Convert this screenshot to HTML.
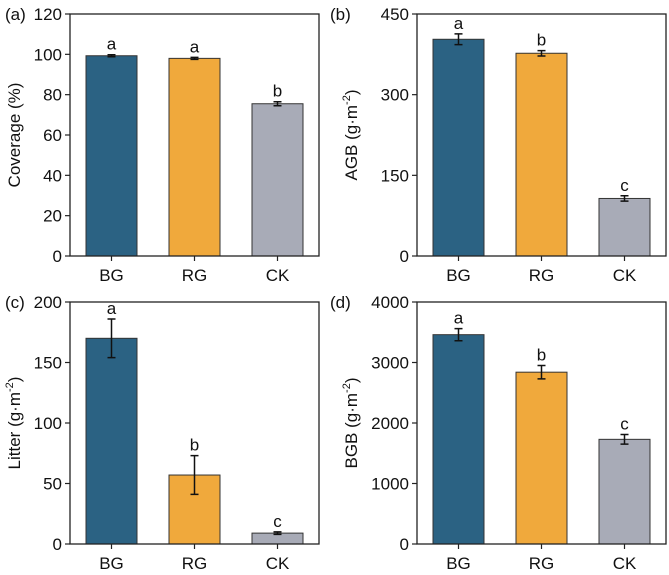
<!DOCTYPE html>
<html><head><meta charset="utf-8"><style>
body{margin:0;background:#fff;}
svg{display:block;font-family:"Liberation Sans",Arial,sans-serif;}
</style></head><body>
<svg id="chart" width="669" height="575"></svg>
<script>
const categories=["BG","RG","CK"];
const colors=["#2b6283","#f0a93c","#a8abb7"];
const coverageVals=[99.3,98.0,75.5];
const coverageErr=[0.5,0.5,1.0];
const coverageLetters=["a","a","b"];
const coverageTicks=[0,20,40,60,80,100,120];
const agbVals=[403,377,107];
const agbErr=[10,5,5];
const agbLetters=["a","b","c"];
const agbTicks=[0,150,300,450];
const litterVals=[170,57,9];
const litterErr=[16,16,1];
const litterLetters=["a","b","c"];
const litterTicks=[0,50,100,150,200];
const bgbVals=[3460,2840,1730];
const bgbErr=[100,110,80];
const bgbLetters=["a","b","c"];
const bgbTicks=[0,1000,2000,3000,4000];

const NS="http://www.w3.org/2000/svg";
const svg=document.getElementById('chart');
function mk(tag,attrs,parent){const e=document.createElementNS(NS,tag);for(const k in attrs)e.setAttribute(k,attrs[k]);(parent||svg).appendChild(e);return e;}

function panel(id,label,title,sup,x0,y0,vals,errs,letters,ticks){
  const W=249,H=242;
  const g=mk('g',{});
  
  
  const max=ticks[ticks.length-1];
  const ys=v=>y0+H-v/max*H;
  const bw=51, step=W/3;
  const xc=i=>x0+step*(i+0.5);
  vals.forEach((v,i)=>{
    const r=mk('rect',{x:xc(i)-bw/2,y:ys(v),width:bw,height:ys(0)-ys(v),fill:colors[i],stroke:'#333','stroke-width':1},g);
    
    
    const e=errs[i];
    const eb=mk('path',{d:`M${xc(i)},${ys(v+e)}V${ys(v-e)}M${xc(i)-4},${ys(v+e)}h8M${xc(i)-4},${ys(v-e)}h8`,stroke:'#111','stroke-width':1.5,fill:'none'},g);
    
    
    const t=mk('text',{x:xc(i),y:ys(v+e)-5,'text-anchor':'middle','font-size':17,fill:'#111'},g);
    t.textContent=letters[i];
    
    
    mk('line',{x1:xc(i),x2:xc(i),y1:y0+H,y2:y0+H+5,stroke:'#222','stroke-width':1.2},g);
    const xl=mk('text',{x:xc(i),y:y0+H+25,'text-anchor':'middle','font-size':17,fill:'#111'},g);
    xl.textContent=categories[i];
    
    
  });
  const fr=mk('rect',{x:x0,y:y0,width:W,height:H,fill:'none',stroke:'#222','stroke-width':1.3},g);
  
  
  ticks.forEach(t=>{
    mk('line',{x1:x0-5,x2:x0,y1:ys(t),y2:ys(t),stroke:'#222','stroke-width':1.2},g);
    const tl=mk('text',{x:x0-8,y:ys(t)+6,'text-anchor':'end','font-size':17,fill:'#111'},g);
    tl.textContent=t;
    
    
  });
  const pl=mk('text',{x:x0-65+(id==='b'||id==='d'?-22:0),y:y0+6,'font-size':17,fill:'#111'},g);
  pl.textContent=label;
  
  
  const tx=x0-(id==='b'||id==='d'?60:50), ty=y0+H/2;
  const at=mk('text',{x:tx,y:ty,'text-anchor':'middle','font-size':17,fill:'#111',transform:`rotate(-90 ${tx} ${ty})`},g);
  
  
  if(sup){
    at.appendChild(document.createTextNode(title+' (g·m'));
    const s=mk('tspan',{'font-size':11,dy:-7},at);s.textContent='-2';
    const c=mk('tspan',{dy:7},at);c.textContent=')';
  } else at.textContent=title;
}
panel('a','(a)','Coverage (%)',false,70,14,coverageVals,coverageErr,coverageLetters,coverageTicks);
panel('b','(b)','AGB',true,417,14,agbVals,agbErr,agbLetters,agbTicks);
panel('c','(c)','Litter',true,70,302,litterVals,litterErr,litterLetters,litterTicks);
panel('d','(d)','BGB',true,417,302,bgbVals,bgbErr,bgbLetters,bgbTicks);
</script>
</body></html>
